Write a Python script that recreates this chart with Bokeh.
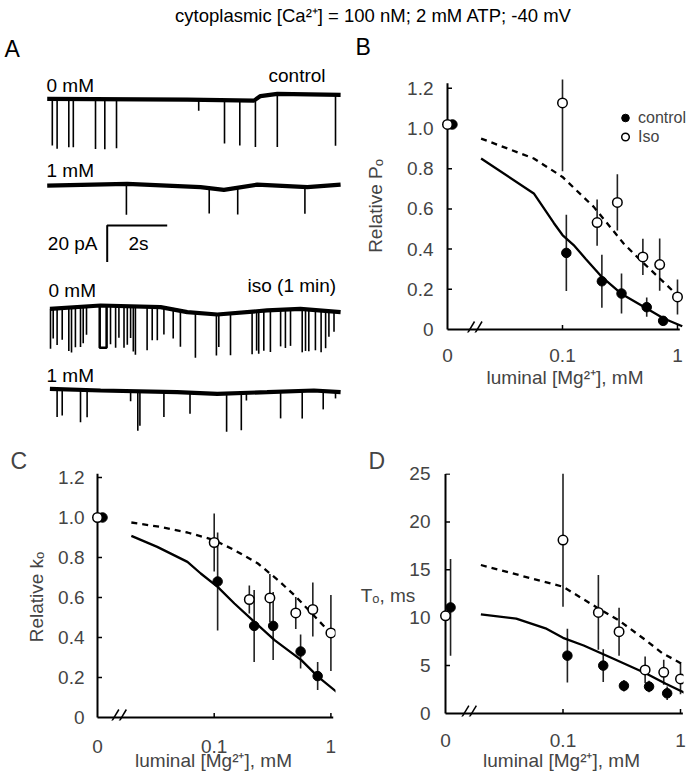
import numpy as np
from bokeh.plotting import figure
from bokeh.layouts import column, row
from bokeh.models import FixedTicker, Label, Legend, LegendItem, Range1d
from bokeh.embed import file_html
from bokeh.resources import INLINE

FONT = "Liberation Sans"

# ---------------- Panel A: single-channel records (time s, current pA) ----------------
a1_base_t = [0.0, 4.67, 6.89, 7.11, 7.67, 9.78]
a1_base_v = [0.0, -0.5, -1.0, 1.5, 2.7, 2.2]
a1_evt_t = [0.17, 0.33, 0.72, 0.87, 1.61, 1.92, 2.31, 5.05, 5.91, 6.42, 6.94, 7.67, 9.61]
a1_evt_a = [25.5, 27.3, 26.4, 26.4, 27.3, 27.3, 26.8, 6.0, 23.7, 24.6, 25.9, 29.1, 27.9]

a2_base_t = [0.0, 2.67, 5.11, 5.89, 7.0, 8.67, 9.78]
a2_base_v = [0.0, 0.9, -0.9, -2.4, 0.5, -0.9, 0.5]
a2_evt_t = [2.64, 5.40, 6.35, 8.59]
a2_evt_a = [16.9, 13.8, 14.6, 14.6]

a3_base_t = [0.09, 1.78, 3.78, 4.67, 5.67, 7.33, 8.44, 9.78]
a3_base_v = [0.0, 1.8, 0.9, -1.8, -3.1, -0.9, 0.0, -1.8]
a3_evt_t = [0.11, 0.20, 0.33, 0.50, 0.72, 0.81, 0.94, 1.11, 1.20, 1.31, 2.11, 2.28, 2.39,
            2.56, 2.67, 2.78, 2.87, 2.94, 3.33, 3.50, 3.67, 3.89, 4.20, 4.44, 4.94, 5.64,
            5.72, 6.11, 6.83, 6.98, 7.05, 7.22, 7.44, 7.78, 7.94, 8.11, 8.50, 8.61, 8.72,
            8.94, 9.13, 9.28, 9.39, 9.56]
a3_evt_a = [21.9, 16.4, 20.0, 17.3, 23.7, 24.6, 21.9, 21.9, 20.0, 15.5, 21.0, 22.8, 17.3,
            22.8, 21.0, 17.3, 24.6, 26.4, 23.7, 18.2, 18.2, 14.6, 15.8, 19.7, 24.6, 22.4,
            17.9, 22.8, 23.3, 21.5, 23.3, 21.9, 22.8, 20.0, 21.0, 20.0, 23.7, 22.8, 22.8,
            22.0, 22.8, 20.4, 14.0, 11.0]
a3_long_t0 = [1.75]
a3_long_t1 = [1.98]
a3_long_a = [23.0]

a4_base_t = [0.09, 1.78, 4.33, 5.67, 7.33, 8.89, 9.78]
a4_base_v = [0.9, 0.0, -0.9, -1.8, -0.9, 0.0, -0.9]
a4_evt_t = [0.33, 0.50, 1.11, 1.33, 2.78, 3.02, 3.09, 3.89, 4.76, 5.98, 6.47, 6.64, 7.78,
            8.50, 9.20, 9.61]
a4_evt_a = [15.3, 14.4, 17.7, 14.9, 5.5, 21.5, 18.8, 13.7, 11.5, 20.9, 20.4, 4.2, 14.6,
            15.1, 10.0, 3.6]

scale_t = 2.0    # s
scale_i = 20.0   # pA

# ---------------- Panel B: relative Po ----------------
b_ctrl_mg = [0, 0.108, 0.22, 0.326, 0.54, 0.75]
b_ctrl_val = [1.02, 0.381, 0.24, 0.179, 0.111, 0.043]
b_ctrl_err = [0, 0.19, 0.132, 0.10, 0.048, 0.02]
b_iso_mg = [0, 0.1, 0.2, 0.3, 0.5, 0.7, 1.0]
b_iso_val = [1.02, 1.127, 0.532, 0.632, 0.361, 0.323, 0.162]
b_iso_err = [0, 0.34, 0.115, 0.14, 0.09, 0.13, 0.087]
b_fit_ctrl_mg = [0.0196, 0.0563, 0.084, 0.1, 0.125, 0.16, 0.221, 0.33, 0.54, 0.76, 1.1]
b_fit_ctrl_val = [0.851, 0.677, 0.53, 0.47, 0.42, 0.35, 0.26, 0.175, 0.105, 0.055, 0.016]
b_fit_iso_mg = [0.0196, 0.0563, 0.1, 0.187, 0.34, 0.476, 0.81, 1.03]
b_fit_iso_val = [0.95, 0.851, 0.759, 0.61, 0.428, 0.345, 0.22, 0.162]

# ---------------- Panel C: relative ko ----------------
c_ctrl_mg = [0, 0.107, 0.22, 0.32, 0.55, 0.77]
c_ctrl_val = [1.0, 0.68, 0.458, 0.458, 0.33, 0.207]
c_ctrl_err = [0, 0.245, 0.18, 0.17, 0.085, 0.07]
c_iso_mg = [0, 0.1, 0.2, 0.3, 0.5, 0.7, 1.0]
c_iso_val = [1.0, 0.875, 0.59, 0.598, 0.523, 0.54, 0.423]
c_iso_err = [0, 0.145, 0.07, 0.12, 0.08, 0.135, 0.19]
c_fit_ctrl_mg = [0.0195, 0.0325, 0.059, 0.0767, 0.107, 0.149, 0.221, 0.329, 0.558, 0.778, 1.12]
c_fit_ctrl_val = [0.908, 0.853, 0.778, 0.72, 0.653, 0.57, 0.478, 0.387, 0.287, 0.203, 0.128]
c_fit_iso_mg = [0.0195, 0.0347, 0.059, 0.1, 0.149, 0.237, 0.352, 0.49, 0.778, 1.0]
c_fit_iso_val = [0.975, 0.953, 0.925, 0.887, 0.837, 0.77, 0.687, 0.61, 0.487, 0.42]

# ---------------- Panel D: To (ms) ----------------
d_ctrl_mg = [0, 0.109, 0.22, 0.33, 0.54, 0.77]
d_ctrl_val = [11.07, 6.04, 5.0, 2.89, 2.81, 2.11]
d_ctrl_err = [5.05, 2.8, 1.7, 0.6, 0.6, 0.7]
d_iso_mg = [0, 0.1, 0.2, 0.3, 0.5, 0.72, 1.0]
d_iso_val = [10.2, 18.1, 10.55, 8.54, 4.55, 4.3, 3.61]
d_iso_err = [0, 6.95, 3.9, 2.5, 1.4, 1.3, 1.6]
d_fit_ctrl_mg = [0.02, 0.04, 0.071, 0.1, 0.15, 0.263, 0.505, 0.75, 1.11]
d_fit_ctrl_val = [10.34, 9.9, 8.89, 7.9, 7.1, 5.76, 4.2, 3.1, 2.11]
d_fit_iso_mg = [0.02, 0.1, 0.2, 0.3, 0.5, 0.7, 1.07]
d_fit_iso_val = [15.5, 13.23, 10.97, 9.7, 7.7, 6.3, 5.07]

x_ticks = [-2, -1, 0]                 # log10 positions of 0 (axis break), 0.1 and 1 mM
x_tick_labels = ["0", "0.1", "1"]
frac_ticks = [0, 0.2, 0.4, 0.6, 0.8, 1.0, 1.2]
frac_labels = ["0", "0.2", "0.4", "0.6", "0.8", "1.0", "1.2"]
ms_ticks = [0, 5, 10, 15, 20, 25]

XLABEL = "luminal [Mg\u00b2\u207a], mM"
ZERO_POS = -2.0       # where 0 mM sits on the broken log axis
X_AXIS_END = 0.02
ISO_ZERO_NUDGE = 0.0
CTRL_ZERO_NUDGE = 0.043


def xpos(mg, nudge=0.0):
    mg = np.asarray(mg, dtype=float)
    safe = np.where(mg > 0, mg, 1.0)
    return np.where(mg > 0, np.log10(safe), ZERO_POS + nudge)


def draw_axes(p, dec_px, y_px, y_top, yticks):
    yt = np.asarray(yticks, dtype=float)[1:]
    xt = np.asarray(x_ticks, dtype=float)[1:]
    tl = 4.5
    p.segment(x0=[ZERO_POS, ZERO_POS], y0=[0.0, 0.0], x1=[X_AXIS_END, ZERO_POS],
              y1=[0.0, y_top], line_color="black", line_width=2)
    p.segment(x0=np.full(yt.size, ZERO_POS), y0=yt,
              x1=np.full(yt.size, ZERO_POS + tl / dec_px), y1=yt,
              line_color="black", line_width=1.5)
    p.segment(x0=xt, y0=np.zeros(xt.size), x1=xt, y1=np.full(xt.size, tl / y_px),
              line_color="black", line_width=1.5)


def make_panel(width, height, bl, br, bt, bb, dec_px, y_px, x_end, y_end, y_top,
               yticks, ylabels, ylabel, ylab_standoff, ytick_standoff, xtick_standoff,
               xlab_standoff, ctrl, iso, fit_ctrl, fit_iso, break_at, letter=None,
               letter_off=0, letter_standoff=0, pad_left=6.0, pad_bottom=3.0):
    # the frame reaches a few px beyond the axis lines so that points on the axis stay whole
    x_start = ZERO_POS - pad_left / dec_px
    y_start = -pad_bottom / y_px
    p = figure(width=width, height=height, x_range=Range1d(x_start, x_end),
               y_range=Range1d(y_start, y_end), output_backend="svg", toolbar_location=None,
               min_border_left=bl, min_border_right=br, min_border_top=bt,
               min_border_bottom=bb)
    p.outline_line_color = None
    p.grid.visible = False
    if letter:
        p.title.text = letter
        p.title.text_font = FONT
        p.title.text_font_size = "23px"
        p.title.text_font_style = "normal"
        p.title.align = "left"
        p.title.offset = letter_off
        p.title.standoff = letter_standoff
    for ax in (p.xaxis[0], p.yaxis[0]):
        ax.axis_line_color = None
        ax.major_tick_line_color = None
        ax.minor_tick_line_color = None
        ax.major_tick_in = 0
        ax.major_tick_out = 0
        ax.major_label_text_font = FONT
        ax.major_label_text_font_size = "19px"
        ax.axis_label_text_font = FONT
        ax.axis_label_text_font_size = "19px"
        ax.axis_label_text_font_style = "normal"
    xa = p.xaxis[0]
    xa.ticker = FixedTicker(ticks=x_ticks)
    xa.major_label_overrides = dict(zip(x_ticks, x_tick_labels))
    xa.axis_label = XLABEL
    xa.major_label_standoff = xtick_standoff
    xa.axis_label_standoff = xlab_standoff
    ya = p.yaxis[0]
    ya.ticker = FixedTicker(ticks=yticks)
    if ylabels is not None:
        ya.major_label_overrides = dict(zip(yticks, ylabels))
    ya.major_label_standoff = ytick_standoff
    ya.axis_label = ylabel
    ya.axis_label_standoff = ylab_standoff

    draw_axes(p, dec_px, y_px, y_top, yticks)

    # break marks on x axis
    hx = 4.8 / dec_px
    gap = 7.5 / dec_px
    hy = 8.0 / y_px
    for dx in (-gap / 2, gap / 2):
        p.segment(x0=[break_at + dx - hx], y0=[-hy], x1=[break_at + dx + hx], y1=[hy],
                  line_color="black", line_width=1.5)

    (cm, cv, ce), (im, iv, ie) = ctrl, iso
    cx = xpos(cm, CTRL_ZERO_NUDGE)
    ix = xpos(im, ISO_ZERO_NUDGE)
    cv, ce, iv, ie = map(np.asarray, (cv, ce, iv, ie))
    m = ce > 0
    p.segment(x0=cx[m], y0=(cv - ce)[m], x1=cx[m], y1=(cv + ce)[m], line_color="#222222",
              line_width=1.6)
    m = ie > 0
    p.segment(x0=ix[m], y0=(iv - ie)[m], x1=ix[m], y1=(iv + ie)[m], line_color="#222222",
              line_width=1.6)
    p.line(np.log10(fit_ctrl[0]), fit_ctrl[1], line_color="black", line_width=2.3)
    p.line(np.log10(fit_iso[0]), fit_iso[1], line_color="black", line_width=2.3,
           line_dash="6 5")
    rc = p.scatter(cx, cv, size=9.5, marker="circle", fill_color="black", line_color="black")
    ri = p.scatter(ix, iv, size=9.5, marker="circle", fill_color="white", line_color="black",
                   line_width=1.5)
    return p, rc, ri


def label(p, x, y, text, size="19px", align="left"):
    p.add_layout(Label(x=x, y=y, text=text, text_font=FONT, text_font_size=size,
                       text_align=align, text_baseline="middle", text_color="black"))


# ---------------- title strip (with panel letters A and B) ----------------
pt = figure(width=691, height=60, x_range=Range1d(0, 691), y_range=Range1d(0, 60),
            x_axis_type=None, y_axis_type=None, output_backend="svg",
            toolbar_location=None, min_border=0)
pt.outline_line_color = None
label(pt, 373, 45, "cytoplasmic [Ca\u00b2\u207a] = 100 nM; 2 mM ATP; -40 mV", "18.5px", "center")
label(pt, 4, 12, "A", "23px")
label(pt, 355, 14, "B", "23px")

# ---------------- panel A ----------------
pa = figure(width=345, height=385, x_range=Range1d(-1.557, 9.943),
            y_range=Range1d(-189.45, 20.93), x_axis_type=None, y_axis_type=None,
            output_backend="svg", toolbar_location=None, min_border=0)
pa.outline_line_color = None
offsets = [0.0, -47.4, -114.75, -159.4]
traces = [(a1_base_t, a1_base_v, a1_evt_t, a1_evt_a),
          (a2_base_t, a2_base_v, a2_evt_t, a2_evt_a),
          (a3_base_t, a3_base_v, a3_evt_t, a3_evt_a),
          (a4_base_t, a4_base_v, a4_evt_t, a4_evt_a)]
for (bt_, bv_, et_, ea_), off in zip(traces, offsets):
    bt_ = np.asarray(bt_)
    bv_ = np.asarray(bv_) + off
    base = np.interp(et_, bt_, bv_)
    pa.segment(x0=et_, y0=base, x1=et_, y1=base - np.asarray(ea_), line_color="black",
               line_width=1.6)
    pa.line(bt_, bv_, line_color="black", line_width=4.2)
bt3 = np.asarray(a3_base_t)
bv3 = np.asarray(a3_base_v) + offsets[2]
for t0, t1, a in zip(a3_long_t0, a3_long_t1, a3_long_a):
    b0, b1 = np.interp([t0, t1], bt3, bv3)
    pa.line([t0, t0, t1, t1], [b0, b0 - a, b1 - a, b1], line_color="black", line_width=2.5)
sb_t, sb_v = 2.0, -69.2
pa.line([sb_t, sb_t, sb_t + scale_t], [sb_v - scale_i, sb_v, sb_v], line_color="black",
        line_width=2)
label(pa, -0.023, 7.27, "0 mM")
label(pa, 7.377, 12.73, "control")
label(pa, -0.023, -39.2, "1 mM")
label(pa, 1.677, -79.1, "20 pA", align="right")
label(pa, 2.71, -79.1, "2s")
label(pa, 0.043, -104.75, "0 mM")
label(pa, 6.677, -102.0, "iso (1 min)")
label(pa, -0.023, -151.2, "1 mM")

# ---------------- panel B ----------------
pb, rcb, rib = make_panel(346, 385, 96, 3, 19, 113, 115.0, 201.0, 0.0957, 1.2438, 1.225,
                          frac_ticks, frac_labels, "Relative P\u2092", 18, 8, 16, 2,
                          (b_ctrl_mg, b_ctrl_val, b_ctrl_err), (b_iso_mg, b_iso_val, b_iso_err),
                          (b_fit_ctrl_mg, b_fit_ctrl_val), (b_fit_iso_mg, b_fit_iso_val), -1.774)
leg = Legend(items=[LegendItem(label="control", renderers=[rcb]),
                    LegendItem(label="Iso", renderers=[rib])],
             location=(173, 186), glyph_width=22, glyph_height=19, label_height=19,
             spacing=0, padding=0, margin=0, label_standoff=2,
             label_text_font=FONT, label_text_font_size="16px",
             border_line_color=None, background_fill_alpha=0)
pb.add_layout(leg)

# ---------------- panel C ----------------
pc, _, _ = make_panel(345, 337, 91, 10, 28, 62, 116.7, 200.0, 0.0394, 1.22, 1.22,
                      frac_ticks, frac_labels, "Relative k\u2092", 8, 7, 19, -6,
                      (c_ctrl_mg, c_ctrl_val, c_ctrl_err), (c_iso_mg, c_iso_val, c_iso_err),
                      (c_fit_ctrl_mg, c_fit_ctrl_val), (c_fit_iso_mg, c_fit_iso_val), -1.826,
                      "C", -81, 0)

# ---------------- panel D ----------------
pd, _, _ = make_panel(346, 337, 94, 8, 27, 66, 117.5, 9.62, 0.0255, 25.05, 25.0,
                      ms_ticks, None, "T\u2092, ms", -9, 9, 17, 0,
                      (d_ctrl_mg, d_ctrl_val, d_ctrl_err), (d_iso_mg, d_iso_val, d_iso_err),
                      (d_fit_ctrl_mg, d_fit_ctrl_val), (d_fit_iso_mg, d_fit_iso_val), -1.81,
                      "D", -71, 0)
pd.yaxis[0].axis_label_orientation = "horizontal"

layout = column(pt, row(column(pa), column(pb)), row(column(pc), column(pd)))
open("out.html", "w").write(file_html(layout, INLINE))
